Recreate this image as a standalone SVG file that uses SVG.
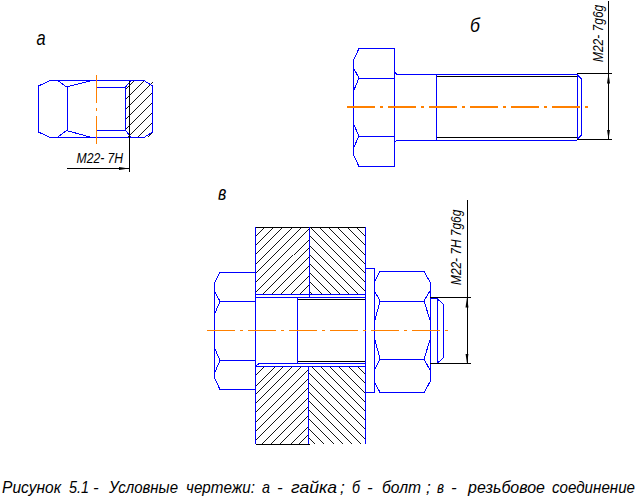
<svg xmlns="http://www.w3.org/2000/svg" width="644" height="502" viewBox="0 0 644 502">
<style>
.b{fill:none;stroke:#0000ff;stroke-width:1;shape-rendering:crispEdges}
.k{fill:none;stroke:#000;stroke-width:1;shape-rendering:crispEdges}
.h{fill:none;stroke:#000;stroke-width:.92;shape-rendering:crispEdges}
.c{fill:none;stroke:#ff8000;stroke-width:1.3;stroke-dasharray:28 5 3 5;shape-rendering:crispEdges}
.t{font-family:"Liberation Sans",Arial,sans-serif;font-style:italic;fill:#000}
.m{font-size:14.500px}.l{font-size:20px}.cap{font-size:17px}
</style>
<defs>
<clipPath id="nutclip"><rect x="126" y="81" width="27" height="56"/></clipPath>
<clipPath id="plateL"><rect x="255.500" y="227" width="54" height="67"/><rect x="255.500" y="367" width="53" height="77"/></clipPath>
<clipPath id="plateR"><rect x="309.500" y="227" width="55.500" height="67"/><rect x="308.500" y="367" width="56.500" height="77"/></clipPath>
<marker id="ar" markerWidth="10" markerHeight="4" refX="10" refY="2" orient="auto-start-reverse" markerUnits="userSpaceOnUse"><path d="M0 .5L10 2L0 3.500Z" fill="#000"/></marker>
</defs>
<g id="nut">
<path class="h" clip-path="url(#nutclip)" d="M124 81l-56 56M134 81l-56 56M144 81l-56 56M154 81l-56 56M164 81l-56 56M174 81l-56 56M184 81l-56 56M194 81l-56 56M204 81l-56 56"/>
<path class="b" d="M50 80.500H144L152.500 86V132L144 137.500H50L38.500 132V86Z"/>
<path class="b" d="M58 80.500L66.500 87L90 81M58 137L66.500 130.500L90 137M67.500 87V130.500M97 87.500H125.500V130.500H97M125.500 87L131 80.500M125.500 130.500L131 137"/>
<line class="c" x1="96.500" y1="75" x2="96.500" y2="144"/>
<line class="k" x1="129.500" y1="81" x2="129.500" y2="172"/>
<line class="k" x1="67" y1="168.500" x2="129" y2="168.500" marker-end="url(#ar)"/>
<text class="t m" transform="translate(76.500 162.500) scale(.84 1)">M22- 7H</text>
<text class="t l" transform="translate(36.500 45) scale(.82 1)">а</text>
</g>
<g id="bolt">
<path class="b" d="M359 48.500H394.500V166.500H359L353.500 155V60Z"/>
<path class="b" d="M359 78.500H394.500M359 136.500H394.500M353.500 68L359 78L354 90M354 125L359 136L354 147"/>
<path class="b" d="M394.500 72L397 74.500H577V139.500M394.500 142L397 140.500H577M436.500 74.500V140.500M577 74.500L581.500 79V135L577 139.500"/>
<path class="k" d="M436.500 76.500H577M436.500 137.500H577M577 73.500H612M577 139.500H612M608.500 1V73"/>
<line class="k" x1="608.500" y1="73.500" x2="608.500" y2="139.500" marker-start="url(#ar)" marker-end="url(#ar)"/>
<line class="c" x1="347" y1="107" x2="588" y2="107"/>
<text class="t m" transform="translate(602.500 62) rotate(-90) scale(.826 1)">M22- 7g6g</text>
<text class="t l" transform="translate(470 32) scale(.88 1)">б</text>
</g>
<g id="joint">
<path class="h" clip-path="url(#plateL)" d="M255.400 227l-217 217M264.700 227l-217 217M274 227l-217 217M283.300 227l-217 217M292.600 227l-217 217M301.900 227l-217 217M311.200 227l-217 217M320.500 227l-217 217M329.800 227l-217 217M339.100 227l-217 217M348.400 227l-217 217M357.700 227l-217 217M367 227l-217 217M376.300 227l-217 217M385.600 227l-217 217M394.900 227l-217 217M404.200 227l-217 217M413.500 227l-217 217M422.800 227l-217 217M432.100 227l-217 217M441.400 227l-217 217M450.700 227l-217 217M460 227l-217 217M469.300 227l-217 217M478.600 227l-217 217M487.900 227l-217 217M497.200 227l-217 217M506.500 227l-217 217M515.800 227l-217 217M525.100 227l-217 217"/>
<path class="h" clip-path="url(#plateR)" d="M365 227l217 217M355.800 227l217 217M346.600 227l217 217M337.400 227l217 217M328.200 227l217 217M319 227l217 217M309.800 227l217 217M300.600 227l217 217M291.400 227l217 217M282.200 227l217 217M273 227l217 217M263.800 227l217 217M254.600 227l217 217M245.400 227l217 217M236.200 227l217 217M227 227l217 217M217.800 227l217 217M208.600 227l217 217M199.400 227l217 217M190.200 227l217 217M181 227l217 217M171.800 227l217 217M162.600 227l217 217M153.400 227l217 217M144.200 227l217 217M135 227l217 217M125.800 227l217 217M116.600 227l217 217M107.400 227l217 217M98.200 227l217 217"/>
<path class="k" d="M255.500 227.500H365M255.500 444.500H310M297.500 299.500H365M297.500 361.500H365"/>
<path class="b" d="M255.500 227V444M365 227V444M309.500 227V297M308.500 366V444M255.500 294.500H365M255.500 297.500H365M259 363.500H365M255.500 366.500L259 363.500M255.500 366.500H365M297.500 297V363"/>
<path class="b" d="M255 272.500H220L214.500 283V378L220 389.500H255M220 301.500H255M220 360.500H255M214.500 291L220 301.500L215 313M215 349L220 360.500L215 372"/>
<path class="b" d="M365 268.500H374V392.500H365"/>
<path class="b" d="M380 271.500H424L430.500 283V381L424 392.500H380L374 381V283ZM380 301.500H424M380 359.500H424M374 290L380 301L375 320M374 371L380 359L375 340M430.500 290L424 301L430 320M430.500 371L424 359L430 340"/>
<path class="b" d="M430.500 298.500H437L443 304V358L437 363.500H430.500M437 298V363.500"/>
<path class="k" d="M430 297.500H471M430 363.500H471M467 200V297"/>
<line class="k" x1="467" y1="297.500" x2="467" y2="363.500" marker-start="url(#ar)" marker-end="url(#ar)"/>
<line class="c" x1="207" y1="330.500" x2="448" y2="330.500"/>
<text class="t m" transform="translate(461 285) rotate(-90) scale(.82 1)">M22- 7H 7g6g</text>
<text class="t l" transform="translate(218 200) scale(.8 1)">в</text>
</g>
<g id="caption">
<text class="t cap" y="492.500"><tspan x="2" textLength="59" lengthAdjust="spacingAndGlyphs">Рисунок</tspan><tspan x="69" textLength="20" lengthAdjust="spacingAndGlyphs">5.1</tspan><tspan x="93">-</tspan><tspan x="109" textLength="69" lengthAdjust="spacingAndGlyphs">Условные</tspan><tspan x="186" textLength="69" lengthAdjust="spacingAndGlyphs">чертежи:</tspan><tspan x="262" textLength="8" lengthAdjust="spacingAndGlyphs">а</tspan><tspan x="277">-</tspan><tspan x="291" textLength="46" lengthAdjust="spacingAndGlyphs">гайка</tspan><tspan x="340">;</tspan><tspan x="352" textLength="8" lengthAdjust="spacingAndGlyphs">б</tspan><tspan x="367">-</tspan><tspan x="382" textLength="39" lengthAdjust="spacingAndGlyphs">болт</tspan><tspan x="426">;</tspan><tspan x="437" textLength="7" lengthAdjust="spacingAndGlyphs">в</tspan><tspan x="451">-</tspan><tspan x="468" textLength="77" lengthAdjust="spacingAndGlyphs">резьбовое</tspan><tspan x="552" textLength="83" lengthAdjust="spacingAndGlyphs">соединение</tspan></text>
</g>
</svg>
